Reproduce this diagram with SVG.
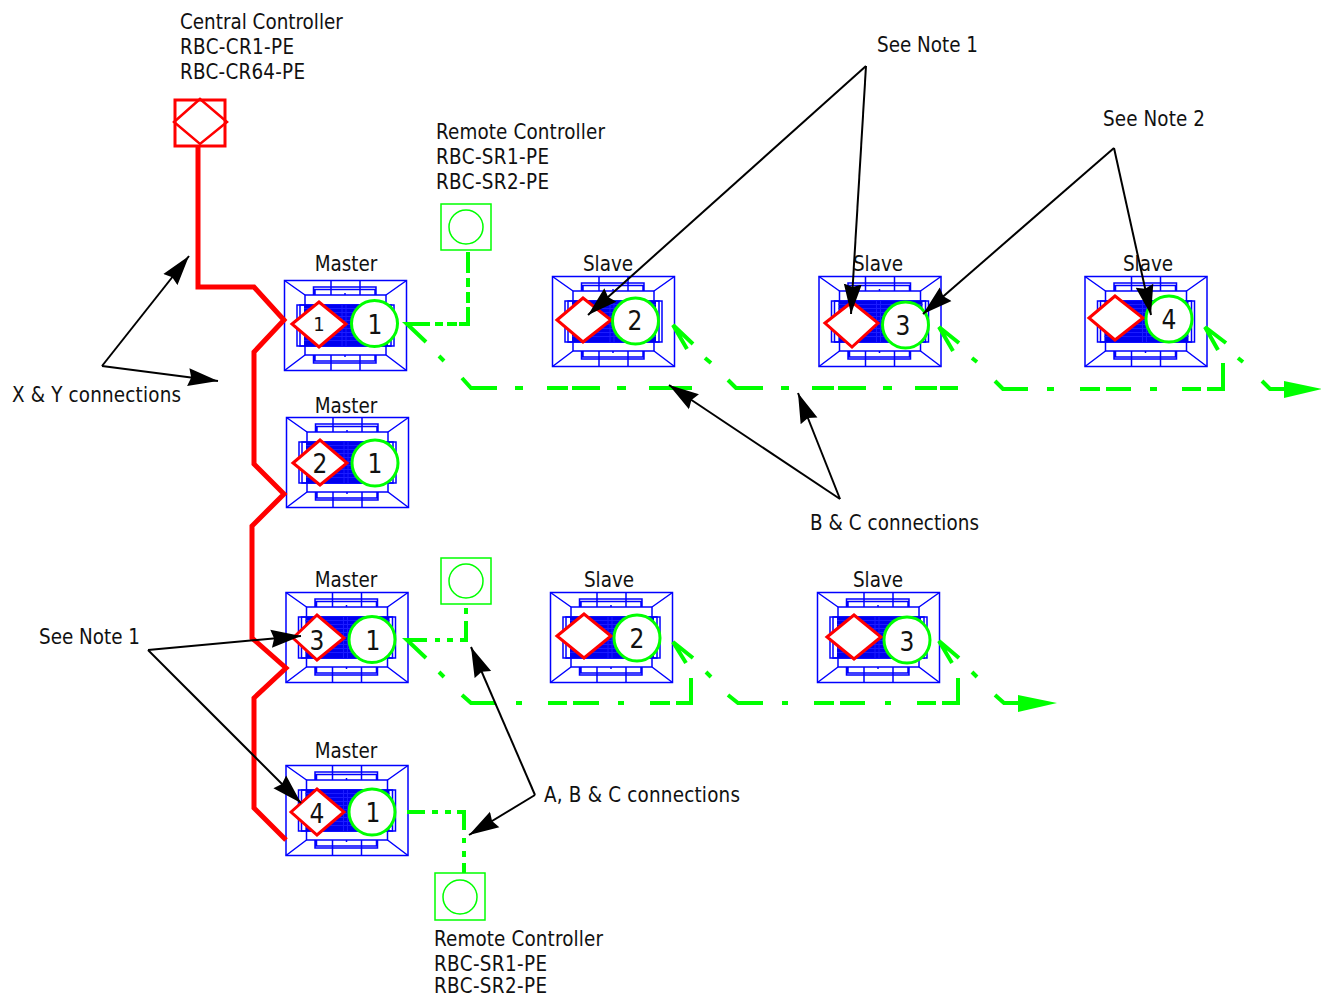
<svg xmlns="http://www.w3.org/2000/svg" width="1321" height="998" viewBox="0 0 1321 998">
<style>
text{font-family:"DejaVu Sans Condensed","DejaVu Sans",sans-serif;font-stretch:condensed;font-size:20.4px;fill:#111}
.num{font-size:26px;text-anchor:middle}
.lab{text-anchor:middle}
.b{fill:none;stroke:#0000ff;stroke-width:1.5}
.dia{fill:#fff;stroke:#f00;stroke-width:3}
.cir{fill:#fff;stroke:#0f0;stroke-width:3}
.red{fill:none;stroke:#f00;stroke-width:5}
.g{fill:none;stroke:#0f0;stroke-width:4}
.k{fill:none;stroke:#000;stroke-width:2}
.rc{fill:#fff;stroke:#0f0;stroke-width:1.5}
.rr{fill:#fff;stroke:#f00;stroke-width:3}
</style>
<defs>
<g id="unit">
<rect class="b" x="0.5" y="0.5" width="122" height="90"/>
<rect class="b" x="21" y="15" width="81" height="60"/>
<path class="b" d="M0.5 0.5L21 15M122.5 0.5L102 15M0.5 90.5L21 75M122.5 90.5L102 75M47 0.5V15M76 0.5V15M47 75V90.5M76 75V90.5"/>
<path class="b" d="M29.5 15V7H92V15M31 15V9.500H91V15M29.500 75V83H92V75M31 75V81H91V75M61 13V15M61 75V77"/>
<rect class="b" x="13" y="25" width="97" height="41"/>
<rect class="b" x="16" y="25" width="91" height="41"/>
<rect x="20" y="25" width="84" height="41" fill="#0000ee"/>
<path d="M20 28.500H104M20 32.500H104M20 36.500H104M20 40.500H104M20 44.500H104M20 48.500H104M20 52.500H104M20 56.500H104M20 60.500H104M58 25V66M62 25V66" stroke="#1c1cff" stroke-width="1" fill="none"/>
</g>
<marker id="ah" markerUnits="userSpaceOnUse" markerWidth="32" markerHeight="20" refX="30" refY="10" orient="auto"><path d="M0 1L30 10L0 19L3 10Z" fill="#000"/></marker>
</defs>

<g id="central-controller">
<rect class="rr" x="175" y="100" width="50" height="46"/>
<path fill="none" stroke="#f00" stroke-width="2.500" d="M200 99L227 122L200 144L174 122Z"/>
<text x="180" y="29">Central Controller</text><text x="180" y="54" textLength="114">RBC-CR1-PE</text><text x="180" y="79" textLength="125">RBC-CR64-PE</text>
</g>
<g id="remote-1"><rect class="rc" x="441" y="204" width="50" height="46"/><circle cx="466" cy="227" r="17" fill="none" stroke="#0f0" stroke-width="1.500"/>
<text x="436" y="139" textLength="169">Remote Controller</text><text x="436" y="164" textLength="113">RBC-SR1-PE</text><text x="436" y="189" textLength="113">RBC-SR2-PE</text></g>
<g id="remote-2"><rect class="rc" x="441" y="558" width="50" height="46"/><circle cx="466" cy="581" r="17" fill="none" stroke="#0f0" stroke-width="1.500"/></g>
<g id="remote-3"><rect class="rc" x="435" y="873" width="50" height="47"/><circle cx="460" cy="897" r="17" fill="none" stroke="#0f0" stroke-width="1.500"/>
<text x="434" y="946" textLength="169">Remote Controller</text><text x="434" y="971" textLength="113">RBC-SR1-PE</text><text x="434" y="993" textLength="113">RBC-SR2-PE</text></g>

<g id="master-1"><use href="#unit" x="284" y="280"/><path class="dia" d="M292 324L319 302L346 324L319 347Z"/><circle class="cir" cx="374.500" cy="323.500" r="23"/><text class="num" style="font-size:20px" x="319" y="331">1</text><text class="num" x="375" y="334">1</text><text class="lab" x="346" y="271">Master</text></g>
<g id="master-2"><use href="#unit" x="286" y="417"/><path class="dia" d="M293 463L320 440L347 463L320 485Z"/><circle class="cir" cx="375" cy="463" r="23"/><text class="num" x="320" y="473">2</text><text class="num" x="375" y="473">1</text><text class="lab" x="346" y="413">Master</text></g>
<g id="master-3"><use href="#unit" x="285.500" y="592"/><path class="dia" d="M293 638L317 615L344 638L317 660Z"/><circle class="cir" cx="372" cy="639.500" r="23"/><text class="num" x="317" y="650">3</text><text class="num" x="373" y="650">1</text><text class="lab" x="346" y="587">Master</text></g>
<g id="master-4"><use href="#unit" x="285.500" y="765"/><path class="dia" d="M291 812L317 789L344 812L317 835Z"/><circle class="cir" cx="372" cy="812" r="23"/><text class="num" x="317" y="823">4</text><text class="num" x="373" y="822">1</text><text class="lab" x="346" y="758">Master</text></g>
<g id="slave-1"><use href="#unit" x="552" y="276"/><path class="dia" d="M557 320L583 298L611 320L583 342Z"/><circle class="cir" cx="635.500" cy="321" r="23"/><text class="num" x="635" y="330">2</text><text class="lab" x="608" y="271">Slave</text></g>
<g id="slave-2"><use href="#unit" x="818.500" y="276"/><path class="dia" d="M825 323L852 302L878 323L852 347Z"/><circle class="cir" cx="905.500" cy="325" r="23"/><text class="num" x="903" y="335">3</text><text class="lab" x="878" y="271">Slave</text></g>
<g id="slave-3"><use href="#unit" x="1084.500" y="276"/><path class="dia" d="M1089 318L1115 296L1143 318L1115 340Z"/><circle class="cir" cx="1169" cy="319" r="23"/><text class="num" x="1169" y="329">4</text><text class="lab" x="1148" y="271">Slave</text></g>
<g id="slave-4"><use href="#unit" x="550" y="592"/><path class="dia" d="M557 636L584 614L611 636L584 658Z"/><circle class="cir" cx="637" cy="638" r="23"/><text class="num" x="637" y="648">2</text><text class="lab" x="609" y="587">Slave</text></g>
<g id="slave-5"><use href="#unit" x="817" y="592"/><path class="dia" d="M827 637L854 615L881 637L854 659Z"/><circle class="cir" cx="907" cy="640" r="23"/><text class="num" x="907" y="651">3</text><text class="lab" x="878" y="587">Slave</text></g>

<g id="connectors">
<path class="red" d="M198 146V287H254L284 320L254 352V464L284 494L252 526V638L286 668L254 698V808L286 840"/>
<path class="g" d="M468 252V273M468 278V287M468 292V303M468 307V324H459M457 324H447M443 324H435M430 324H407L426 342M439 356L444 361M462 378L471 388H497M515 388H523M547 388H568M572 388H600M617 388H626M649 388H672M672 388H692"/>
<path class="g" d="M687 349L673 325L693 344M705 358L711 363M728 380L736 388H763M781 388H789M812 388H834M838 388H866M883 388H892M915 388H937M940 388H958"/>
<path class="g" d="M953 351L939 327L959 343M972 358L977 362M995 381L1003 389H1028M1047 389H1054M1080 389H1100M1106 389H1131M1150 389H1157M1182 389H1201M1207 389H1223V363"/>
<path class="g" d="M1218 350L1205 327L1226 343M1238 358L1243 362M1262 381L1270 389H1286"/>
<path d="M1284 381L1322 389L1284 398Z" fill="#0f0"/>
<path class="g" d="M466 608V614M466 621V640H460M453 640H447M440 640H435M427 640H407L426 658M439 672L444 677M462 695L471 703H495M516 703H522M548 703H567M573 703H599M618 703H624M650 703H670M676 703H691V678"/>
<path class="g" d="M686 663L673 642L693 658M706 672L711 677M728 695L738 703H763M782 703H788M814 703H834M840 703H865M885 703H891M917 703H936M942 703H958V678"/>
<path class="g" d="M952 663L939 641L959 658M972 672L977 677M995 695L1004 703H1020"/>
<path d="M1018 695L1057 703L1018 712Z" fill="#0f0"/>
<path class="g" d="M407 812H425M432 812H438M445 812H451M457 812H464V830M464 838V843M464 851V857M464 863V873"/>
<path class="k" d="M866 66L588 315" marker-end="url(#ah)"/>
<path class="k" d="M866 66L851 314" marker-end="url(#ah)"/>
<path class="k" d="M1114 148L923 314" marker-end="url(#ah)"/>
<path class="k" d="M1114 148L1151 315" marker-end="url(#ah)"/>
<path class="k" d="M102 366L189 256" marker-end="url(#ah)"/>
<path class="k" d="M102 366L218 381" marker-end="url(#ah)"/>
<path class="k" d="M840 499L669 385" marker-end="url(#ah)"/>
<path class="k" d="M840 499L798 393" marker-end="url(#ah)"/>
<path class="k" d="M148 650L301 636" marker-end="url(#ah)"/>
<path class="k" d="M148 650L301 803" marker-end="url(#ah)"/>
<path class="k" d="M535 795L471 647" marker-end="url(#ah)"/>
<path class="k" d="M535 795L469 835" marker-end="url(#ah)"/>
</g>

<g id="labels">
<text x="877" y="52" textLength="101">See Note 1</text>
<text x="1103" y="126" textLength="102">See Note 2</text>
<text x="12" y="402" textLength="169">X &amp; Y connections</text>
<text x="810" y="530" textLength="169">B &amp; C connections</text>
<text x="39" y="644" textLength="101">See Note 1</text>
<text x="544" y="802" textLength="196">A, B &amp; C connections</text>
</g>
</svg>
